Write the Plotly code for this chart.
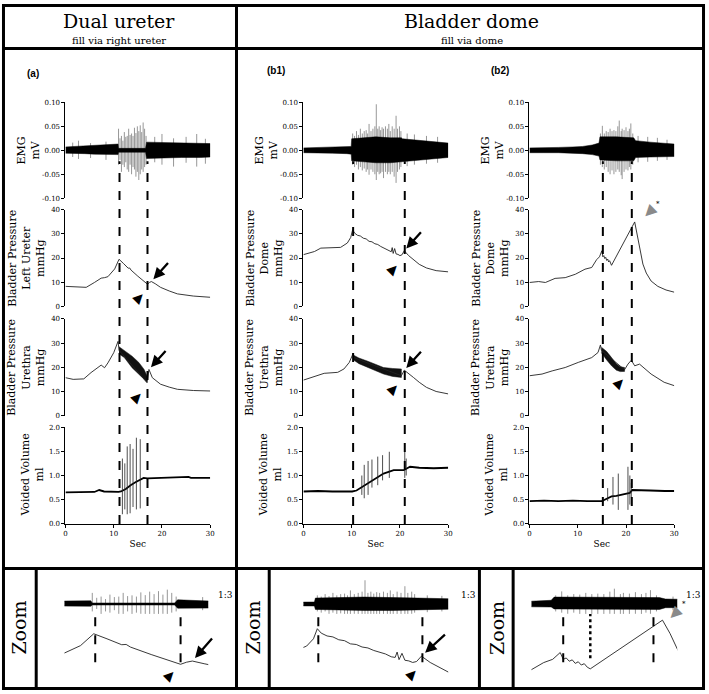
import plotly.graph_objects as go

# ------------------------------------------------------------------
# data (time in s)
# ------------------------------------------------------------------
x_ticks = [0, 10, 20, 30]
emg_ticks = [-0.1, -0.05, 0.0, 0.05, 0.1]
emg_tick_text = ["-0.10", "-0.05", "0.00", "0.05", "0.10"]
p_ticks = [0, 10, 20, 30, 40]
vol_ticks = [0, 0.5, 1.0, 1.5, 2.0]
vol_tick_text = ["0.0", "0.5", "1.0", "1.5", "2.0"]

# event lines (dashed)
a_events = [11.2, 17.0]
b1_events = [10.3, 21.0]
b2_events = [15.2, 21.2]
zoom3_dotted = [17.0]

# ---- (a) dual ureter ----
a_emg_t = [0, 2, 4, 6, 8, 10, 10.9, 11.0, 16.6, 16.8, 20, 24, 28, 30]
a_emg_hi = [0.007, 0.008, 0.008, 0.009, 0.010, 0.012, 0.013, 0.004, 0.004, 0.017, 0.016, 0.015, 0.015, 0.014]
a_emg_lo = [-0.006, -0.007, -0.007, -0.008, -0.008, -0.009, -0.009, -0.004, -0.004, -0.017, -0.016, -0.015, -0.015, -0.014]
a_spk_t = [1.5, 2.7, 5.2, 8.4, 11.0, 11.3, 11.6, 11.9, 12.2, 12.5, 12.8, 13.1, 13.4, 13.7, 14.0,
           14.3, 14.6, 14.9, 15.2, 15.5, 15.8, 16.1, 16.4, 16.7, 18.5, 20.0, 22.4, 25.0, 27.2, 29.0]
a_spk_hi = [0.016, 0.020, 0.015, 0.018, 0.045, 0.025, 0.030, 0.020, 0.038, 0.028, 0.030, 0.045, 0.032, 0.035, 0.030,
            0.047, 0.036, 0.050, 0.040, 0.052, 0.038, 0.058, 0.045, 0.030, 0.028, 0.034, 0.025, 0.028, 0.034, 0.024]
a_spk_lo = [-0.014, -0.018, -0.016, -0.020, -0.030, -0.020, -0.045, -0.030, -0.035, -0.025, -0.040, -0.045, -0.030, -0.050, -0.035,
            -0.040, -0.055, -0.045, -0.062, -0.050, -0.040, -0.045, -0.035, -0.030, -0.025, -0.030, -0.034, -0.026, -0.034, -0.028]

a_p1_t = [0, 2, 4.3, 6.0, 7.4, 8.1, 8.8, 10.2, 11.1, 12.0, 13.0, 13.3, 13.6, 15.0, 17.0, 17.4, 17.8, 18.6, 19.7, 21.5, 23.2, 26.5, 30]
a_p1_v = [8.3, 8.1, 7.9, 9.9, 11.7, 11.9, 12.3, 15.5, 19.5, 17.8, 15.8, 15.9, 15.0, 12.5, 9.2, 9.9, 10.3, 9.4, 7.9, 6.4, 5.2, 4.3, 3.8]

a_p2_t = [0, 1.6, 3.8, 5.3, 7.4, 8.1, 8.8, 10.0, 10.9, 11.1, 16.9, 17.3, 18.0, 19.7, 21.5, 23.2, 26.5, 30]
a_p2_v = [15.7, 15.0, 15.2, 17.8, 20.9, 19.8, 21.8, 26.0, 30.7, 27.0, 13.7, 19.1, 15.7, 13.0, 11.8, 10.9, 10.4, 10.2]
a_p2_band_t = [11.1, 12.2, 13.8, 15.2, 16.3, 16.9]
a_p2_band_hi = [28.5, 27.0, 24.6, 22.0, 19.1, 16.4]
a_p2_band_lo = [25.5, 24.0, 19.8, 17.0, 15.0, 13.7]

a_vol_t = [0, 3, 6, 7, 8, 11, 11.5, 12.5, 13.5, 14.5, 15.5, 16.2, 17, 20, 23, 25.5, 26, 28, 30]
a_vol_v = [0.65, 0.66, 0.66, 0.70, 0.67, 0.66, 0.67, 0.72, 0.80, 0.86, 0.91, 0.95, 0.94, 0.95, 0.95, 0.97, 0.95, 0.95, 0.95]
a_vspk_t = [11.8, 12.3, 12.8, 13.4, 14.0, 14.7, 15.5]
a_vspk_hi = [1.35, 1.25, 1.60, 1.65, 1.55, 1.78, 1.75]
a_vspk_lo = [0.20, 0.30, 0.20, 0.22, 0.35, 0.30, 0.32]

# ---- (b1) bladder dome ----
b1_emg_t = [0, 3, 6, 9, 9.9, 10.0, 12, 15, 18, 20.3, 20.5, 24, 27, 30]
b1_emg_hi = [0.005, 0.006, 0.006, 0.007, 0.008, 0.024, 0.026, 0.028, 0.026, 0.026, 0.024, 0.021, 0.018, 0.015]
b1_emg_lo = [-0.005, -0.006, -0.006, -0.007, -0.008, -0.022, -0.023, -0.026, -0.026, -0.024, -0.024, -0.021, -0.018, -0.015]
b1_spk_t = [10.2, 10.6, 11.0, 11.4, 11.8, 12.2, 12.6, 13.0, 13.3, 13.6, 14.0, 14.4, 14.8, 15.1, 15.4, 15.7, 16.0,
            16.3, 16.6, 17.0, 17.4, 17.7, 18.0, 18.4, 18.8, 19.2, 19.5, 19.9, 20.2, 21.5, 23.0, 25.5, 27.8]
b1_spk_hi = [0.035, 0.030, 0.040, 0.032, 0.045, 0.035, 0.040, 0.042, 0.035, 0.055, 0.040, 0.045, 0.050, 0.096, 0.045, 0.050, 0.042,
             0.048, 0.045, 0.050, 0.045, 0.055, 0.040, 0.050, 0.045, 0.072, 0.045, 0.050, 0.040, 0.035, 0.033, 0.030, 0.028]
b1_spk_lo = [-0.030, -0.035, -0.030, -0.040, -0.035, -0.042, -0.038, -0.045, -0.040, -0.051, -0.040, -0.045, -0.050, -0.062, -0.045, -0.050, -0.048,
             -0.045, -0.058, -0.045, -0.050, -0.045, -0.050, -0.045, -0.055, -0.068, -0.045, -0.040, -0.035, -0.033, -0.030, -0.028, -0.026]

b1_p1_t = [0, 1, 2.3, 3.6, 5, 6.4, 7.7, 9.1, 9.8, 10.2, 10.6, 11.2, 11.8, 12.4, 13.0, 13.6, 14.2, 14.8, 15.4, 16.0, 16.6, 17.2,
           17.8, 18.2, 18.4, 18.6, 18.9, 19.2, 19.6, 20.0, 20.4, 20.9, 21.8, 22.8, 24.0, 25.5, 27.5, 30]
b1_p1_v = [21.4, 21.9, 22.7, 24.1, 24.3, 24.5, 24.4, 26.2, 28.5, 31.7, 30.3, 29.4, 29.1, 28.2, 27.9, 26.9, 26.7, 25.9, 25.6, 24.8, 24.2, 23.7,
           22.8, 22.6, 24.3, 21.9, 23.9, 21.7, 21.5, 21.0, 21.3, 23.0, 21.0, 19.3, 17.4, 15.9, 14.8, 14.3]

b1_p2_t = [0, 2.3, 4.3, 7.1, 8.4, 9.5, 10.3, 10.4, 20.3, 20.9, 21.8, 22.8, 24, 25.5, 27.5, 30]
b1_p2_v = [14.7, 16.1, 17.5, 17.9, 19.3, 22.0, 25.7, 24.0, 16.5, 18.8, 17.5, 15.8, 13.8, 11.7, 10.0, 9.0]
b1_p2_band_t = [10.4, 11.5, 13.2, 15.0, 16.6, 18.5, 20.3]
b1_p2_band_hi = [25.0, 23.8, 22.6, 21.2, 19.9, 19.5, 19.3]
b1_p2_band_lo = [23.0, 21.5, 19.9, 18.5, 17.2, 16.2, 15.8]

b1_vol_t = [0, 3, 6, 9, 10.1, 11.0, 11.8, 13.0, 14.6, 16.6, 18.7, 20.8, 21.5, 22.1, 24, 27, 30]
b1_vol_v = [0.67, 0.68, 0.67, 0.67, 0.67, 0.69, 0.74, 0.82, 0.91, 1.04, 1.11, 1.11, 1.15, 1.18, 1.16, 1.15, 1.16]
b1_vspk_t = [12.1, 12.6, 13.4, 14.2, 15.4, 16.4, 17.8, 21.0, 21.3]
b1_vspk_hi = [1.00, 1.22, 1.30, 1.33, 1.39, 1.42, 1.49, 1.52, 1.35]
b1_vspk_lo = [0.60, 0.53, 0.60, 0.75, 0.80, 0.90, 0.95, 0.95, 1.00]

# ---- (b2) bladder dome ----
b2_emg_t = [0, 3, 6, 9, 11, 13, 14.4, 14.6, 18, 21.6, 22, 25, 28, 30]
b2_emg_hi = [0.005, 0.005, 0.006, 0.007, 0.008, 0.011, 0.015, 0.028, 0.028, 0.026, 0.020, 0.017, 0.015, 0.013]
b2_emg_lo = [-0.005, -0.005, -0.005, -0.006, -0.007, -0.009, -0.012, -0.020, -0.022, -0.022, -0.015, -0.014, -0.013, -0.013]
b2_spk_t = [14.7, 15.1, 15.5, 15.9, 16.3, 16.7, 17.1, 17.5, 17.9, 18.3, 18.6, 19.0, 19.2, 19.6, 20.0, 20.4,
            20.7, 21.0, 21.4, 22.5, 24.5, 26.5, 28.5]
b2_spk_hi = [0.035, 0.051, 0.035, 0.040, 0.038, 0.045, 0.040, 0.042, 0.040, 0.050, 0.062, 0.040, 0.045, 0.042, 0.048, 0.040,
             0.045, 0.056, 0.035, 0.030, 0.028, 0.026, 0.022]
b2_spk_lo = [-0.030, -0.035, -0.040, -0.035, -0.045, -0.050, -0.042, -0.050, -0.045, -0.040, -0.045, -0.052, -0.060, -0.045, -0.040, -0.042,
             -0.035, -0.040, -0.030, -0.025, -0.024, -0.022, -0.020]

b2_p1_t = [0, 1.9, 3.3, 5.3, 7.4, 9.5, 11.5, 12.9, 13.9, 14.5, 15.0, 15.2, 15.4, 15.6, 15.8, 16.0, 16.2, 16.4, 16.6, 16.8, 17.0,
           21.8, 22.3, 22.8, 23.5, 24.2, 25.2, 26.6, 28.3, 30]
b2_p1_v = [9.9, 10.3, 9.9, 11.6, 11.9, 13.3, 15.4, 16.1, 19.3, 20.5, 23.0, 20.5, 21.0, 19.8, 20.3, 19.0, 19.6, 18.4, 18.9, 17.6, 17.0,
           34.9, 30.0, 24.1, 17.5, 13.8, 10.5, 8.3, 6.8, 5.9]

b2_p2_t = [0, 2.6, 4.7, 7.4, 10.1, 12.9, 14.2, 14.7, 14.9, 19.7, 20.4, 21.1, 21.8, 22.8, 25.2, 27.9, 30]
b2_p2_v = [16.5, 17.2, 18.5, 19.9, 22.0, 24.0, 26.1, 29.2, 27.0, 19.0, 21.3, 22.9, 20.6, 21.3, 17.2, 13.8, 12.4]
b2_p2_band_t = [14.9, 16.0, 17.0, 18.0, 18.8, 19.7]
b2_p2_band_hi = [28.3, 26.5, 24.0, 21.5, 20.2, 19.9]
b2_p2_band_lo = [26.0, 23.0, 20.6, 18.8, 18.2, 18.3]

b2_vol_t = [0, 3, 6, 9, 12, 15, 16, 17, 18, 19, 20, 20.8, 21.3, 22, 25, 28, 30]
b2_vol_v = [0.47, 0.48, 0.47, 0.48, 0.47, 0.47, 0.52, 0.57, 0.58, 0.60, 0.62, 0.64, 0.70, 0.70, 0.69, 0.68, 0.68]
b2_vspk_t = [16.2, 17.3, 18.4, 20.4, 20.8, 21.1]
b2_vspk_hi = [0.74, 0.97, 1.04, 1.18, 1.00, 0.85]
b2_vspk_lo = [0.47, 0.40, 0.29, 0.29, 0.40, 0.55]

# zoomed windows (s) and pressure scale of each zoom strip
zoom_t_range = [[9.11, 18.88], [8.77, 23.65], [13.09, 22.78]]
zoom_p_range = [[6.2, 26.2], [17.6, 36.4], [15.4, 37.2]]

# ------------------------------------------------------------------
# layout helpers (pixel -> paper)
# ------------------------------------------------------------------
W, H = 709, 694
SERIF = "DejaVu Serif"
SANS = "Liberation Sans"


def px(x):
    return x / W


def py(y):
    return 1 - y / H


def nm(n):
    return "" if n == 1 else str(n)


COL_X = [64, 304, 532]
COL_W = 146
ROWS = [(99.5, 196.5), (208, 306), (318.5, 416.5), (428, 526)]

fig = go.Figure()


def add_emg(xa, ya, t, hi, lo, st, shi, slo):
    sx, sy = [], []
    for tt, h, l in zip(st, shi, slo):
        sx += [tt, tt, None]
        sy += [l, h, None]
    fig.add_trace(go.Scatter(x=sx, y=sy, mode="lines", xaxis=xa, yaxis=ya,
                             line=dict(color="#6a6a6a", width=0.7), hoverinfo="skip"))
    fig.add_trace(go.Scatter(x=t + t[::-1], y=hi + lo[::-1], mode="lines", fill="toself",
                             fillcolor="black", xaxis=xa, yaxis=ya,
                             line=dict(color="black", width=0.5), hoverinfo="skip"))


def add_line(xa, ya, t, v, width=0.9, color="#222"):
    fig.add_trace(go.Scatter(x=t, y=v, mode="lines", xaxis=xa, yaxis=ya,
                             line=dict(color=color, width=width), hoverinfo="skip"))


def add_band(xa, ya, t, hi, lo):
    fig.add_trace(go.Scatter(x=t + t[::-1], y=hi + lo[::-1], mode="lines", fill="toself",
                             fillcolor="#111", xaxis=xa, yaxis=ya,
                             line=dict(color="#111", width=0.5), hoverinfo="skip"))


def add_vspikes(xa, ya, st, shi, slo):
    sx, sy = [], []
    for tt, h, l in zip(st, shi, slo):
        sx += [tt, tt, None]
        sy += [l, h, None]
    fig.add_trace(go.Scatter(x=sx, y=sy, mode="lines", xaxis=xa, yaxis=ya,
                             line=dict(color="#222", width=0.8), hoverinfo="skip"))


columns = [
    dict(emg=(a_emg_t, a_emg_hi, a_emg_lo, a_spk_t, a_spk_hi, a_spk_lo),
         p1=(a_p1_t, a_p1_v), p2=(a_p2_t, a_p2_v), band=(a_p2_band_t, a_p2_band_hi, a_p2_band_lo),
         vol=(a_vol_t, a_vol_v), vspk=(a_vspk_t, a_vspk_hi, a_vspk_lo), events=a_events,
         p1_title="Bladder Pressure<br>Left Ureter<br>mmHg", label="(a)", label_xy=(31.5, 70)),
    dict(emg=(b1_emg_t, b1_emg_hi, b1_emg_lo, b1_spk_t, b1_spk_hi, b1_spk_lo),
         p1=(b1_p1_t, b1_p1_v), p2=(b1_p2_t, b1_p2_v), band=(b1_p2_band_t, b1_p2_band_hi, b1_p2_band_lo),
         vol=(b1_vol_t, b1_vol_v), vspk=(b1_vspk_t, b1_vspk_hi, b1_vspk_lo), events=b1_events,
         p1_title="Bladder Pressure<br>Dome<br>mmHg", label="(b1)", label_xy=(276, 67.5)),
    dict(emg=(b2_emg_t, b2_emg_hi, b2_emg_lo, b2_spk_t, b2_spk_hi, b2_spk_lo),
         p1=(b2_p1_t, b2_p1_v), p2=(b2_p2_t, b2_p2_v), band=(b2_p2_band_t, b2_p2_band_hi, b2_p2_band_lo),
         vol=(b2_vol_t, b2_vol_v), vspk=(b2_vspk_t, b2_vspk_hi, b2_vspk_lo), events=b2_events,
         p1_title="Bladder Pressure<br>Dome<br>mmHg", label="(b2)", label_xy=(502, 67.5)),
]

axis_style = dict(showgrid=False, zeroline=False, showline=True, linecolor="black", linewidth=1,
                  ticks="outside", ticklen=3, tickwidth=1, tickcolor="black",
                  tickfont=dict(family=SERIF, size=7, color="black"))

layout = {}
annotations = []
shapes = []


def paper_text(text, x, y, size, family=SERIF, angle=0, xanchor="center"):
    annotations.append(dict(text=text, xref="paper", yref="paper", x=px(x), y=py(y),
                            xanchor=xanchor, yanchor="middle", textangle=angle, showarrow=False,
                            font=dict(family=family, size=size, color="black")))


for c, col in enumerate(columns):
    xn = c + 1
    xa = "x" + nm(xn)
    yids = [c * 4 + r + 1 for r in range(4)]
    ya = ["y" + nm(i) for i in yids]

    layout["xaxis" + nm(xn)] = dict(axis_style, domain=[px(COL_X[c]), px(COL_X[c] + COL_W)],
                                     range=[0, 30], tickvals=x_ticks, anchor=ya[3],
                                     title=dict(text="Sec", font=dict(family=SERIF, size=9, color="black"),
                                                standoff=3))
    ranges = [[-0.1, 0.1], [0, 40], [0, 40], [0, 2]]
    tick_sets = [(emg_ticks, emg_tick_text), (p_ticks, None), (p_ticks, None), (vol_ticks, vol_tick_text)]
    for r in range(4):
        tv, tt = tick_sets[r]
        ax = dict(axis_style, domain=[py(ROWS[r][1]), py(ROWS[r][0])], range=ranges[r],
                  anchor=xa, tickvals=tv)
        if tt:
            ax["ticktext"] = tt
        layout["yaxis" + nm(yids[r])] = ax

    add_emg(xa, ya[0], *col["emg"])
    add_line(xa, ya[1], *col["p1"])
    add_band(xa, ya[2], *col["band"])
    add_line(xa, ya[2], *col["p2"])
    add_line(xa, ya[3], *col["vol"], width=1.8, color="black")
    add_vspikes(xa, ya[3], *col["vspk"])

    # y titles
    titles = ["EMG<br>mV", col["p1_title"], "Bladder Pressure<br>Urethra<br>mmHg", "Voided Volume<br>ml"]
    offs = [22, 16, 16, 18]
    for r in range(4):
        paper_text(titles[r], COL_X[c] - offs[r], (ROWS[r][0] + ROWS[r][1]) / 2, 11,
                   angle=-90, xanchor="right")
    paper_text("<b>%s</b>" % col["label"], col["label_xy"][0], col["label_xy"][1], 10, family=SANS)
    for ev in col["events"]:
        shapes.append(dict(type="line", xref=xa, yref="paper", x0=ev, x1=ev,
                           y0=py(526), y1=py(159), line=dict(color="black", width=2, dash="dash")))

# ------------------------------------------------------------------
# zoom strips
# ------------------------------------------------------------------
ZOOM_X = [(63, 208), (304, 450), (534, 681)]
zoom_src = [
    (columns[0]["emg"], (a_p1_t, a_p1_v), a_events),
    (columns[1]["emg"], (b1_p1_t, b1_p1_v), b1_events),
    (columns[2]["emg"], (b2_p1_t, b2_p1_v), b2_events),
]
for k in range(3):
    xn = 4 + k
    ye, yp = 13 + 2 * k, 14 + 2 * k
    xa = "x" + nm(xn)
    hidden = dict(visible=False, showgrid=False, zeroline=False)
    layout["xaxis" + nm(xn)] = dict(hidden, domain=[px(ZOOM_X[k][0]), px(ZOOM_X[k][1])],
                                     range=zoom_t_range[k], anchor="y" + nm(yp))
    layout["yaxis" + nm(ye)] = dict(hidden, domain=[py(632), py(582)], range=[-0.1, 0.1], anchor=xa)
    layout["yaxis" + nm(yp)] = dict(hidden, domain=[py(677), py(617)], range=zoom_p_range[k], anchor=xa)
    emg, pres, evs = zoom_src[k]
    add_emg(xa, "y" + nm(ye), *emg)
    add_line(xa, "y" + nm(yp), *pres)
    for ev in evs:
        shapes.append(dict(type="line", xref=xa, yref="paper", x0=ev, x1=ev,
                           y0=py(666), y1=py(615), line=dict(color="black", width=2, dash="dash")))
    if k == 2:
        for ev in zoom3_dotted:
            shapes.append(dict(type="line", xref=xa, yref="paper", x0=ev, x1=ev,
                               y0=py(662), y1=py(617), line=dict(color="black", width=2.5, dash="dot")))

# ------------------------------------------------------------------
# arrows / arrowheads
# ------------------------------------------------------------------
def val(ts, vs, t):
    return vs[ts.index(t)]


def arrow(xa, ya, t, v, ax, ay, standoff=3):
    annotations.append(dict(x=t, y=v, xref=xa, yref=ya, text="", showarrow=True, ax=ax, ay=ay,
                            arrowhead=2, arrowsize=1, arrowwidth=2.3, arrowcolor="black",
                            standoff=standoff))


def tri(xa, ya, t, v, dx, dy, angle=45, color="black", size=13):
    annotations.append(dict(x=t, y=v, xref=xa, yref=ya, text="\u25b2", showarrow=False,
                            xanchor="center", yanchor="middle",
                            xshift=dx, yshift=dy, textangle=angle,
                            font=dict(family="DejaVu Sans", size=size, color=color)))


def star(xa, ya, t, v, dx, dy):
    annotations.append(dict(x=t, y=v, xref=xa, yref=ya, text="*", showarrow=False,
                            xanchor="center", yanchor="middle",
                            xshift=dx, yshift=dy, font=dict(family=SERIF, size=7, color="black")))


arrow("x", "y2", 17.8, val(a_p1_t, a_p1_v, 17.8), 18, -20)
tri("x", "y2", 17.0, val(a_p1_t, a_p1_v, 17.0), -7, -13)
arrow("x", "y3", 17.3, val(a_p2_t, a_p2_v, 17.3), 18, -20)
tri("x", "y3", 16.9, val(a_p2_t, a_p2_v, 16.9), -9, -14)

arrow("x2", "y6", 20.9, val(b1_p1_t, b1_p1_v, 20.9), 18, -20)
tri("x2", "y6", 20.0, val(b1_p1_t, b1_p1_v, 20.0), -6, -13)
arrow("x2", "y7", 20.9, val(b1_p2_t, b1_p2_v, 20.9), 18, -20)
tri("x2", "y7", 20.3, val(b1_p2_t, b1_p2_v, 20.3), -7, -13)

tri("x3", "y11", 18.8, val(b2_p2_band_t, b2_p2_band_lo, 18.8), 0, -11)
tri("x3", "y10", 21.8, val(b2_p1_t, b2_p1_v, 21.8), 14, 9, angle=-135, color="#8a8a8a", size=15)
star("x3", "y10", 21.8, val(b2_p1_t, b2_p1_v, 21.8), 23, 18)

arrow("x4", "y14", 17.8, val(a_p1_t, a_p1_v, 17.8), 21, -24, standoff=4)
tri("x4", "y14", 17.0, val(a_p1_t, a_p1_v, 17.0), -10, -10)
arrow("x5", "y16", 20.9, val(b1_p1_t, b1_p1_v, 20.9), 25, -23, standoff=5)
tri("x5", "y16", 20.0, val(b1_p1_t, b1_p1_v, 20.0), 0, -11)
tri("x6", "y18", 21.8, val(b2_p1_t, b2_p1_v, 21.8), 11, 6, angle=-135, color="#8a8a8a", size=15)
star("x6", "y18", 21.8, val(b2_p1_t, b2_p1_v, 21.8), 22, 16)

# ------------------------------------------------------------------
# headers, zoom labels, frame
# ------------------------------------------------------------------
headers = [("Dual ureter", "fill via right ureter", 118), ("Bladder dome", "fill via dome", 474)]
for big, small, cx in headers:
    paper_text(big, cx, 17.5, 19)
    paper_text(small, cx, 36.5, 10)

for cx in [17, 253, 498.5]:
    paper_text("Zoom", cx, 631, 19, angle=-90)
for cx in [225, 470, 697]:
    paper_text("1:3", cx, 598, 9)

frame = dict(color="black", width=3)
shapes.append(dict(type="rect", xref="paper", yref="paper", x0=px(1.5), x1=px(707.5),
                   y0=py(692.5), y1=py(1.5), line=frame))
for yy in [45, 571]:
    shapes.append(dict(type="line", xref="paper", yref="paper", x0=0, x1=1, y0=py(yy), y1=py(yy), line=frame))
shapes.append(dict(type="line", xref="paper", yref="paper", x0=px(236.5), x1=px(236.5),
                   y0=py(692), y1=py(0), line=frame))
for xx in [34.5, 269.5, 481.5, 515.5]:
    shapes.append(dict(type="line", xref="paper", yref="paper", x0=px(xx), x1=px(xx),
                       y0=py(692), y1=py(571), line=frame))

fig.update_layout(width=W, height=H, margin=dict(l=0, r=0, t=0, b=0), showlegend=False,
                  paper_bgcolor="white", plot_bgcolor="white",
                  annotations=annotations, shapes=shapes, **layout)

fig.write_html("out.html", config={"displayModeBar": False},
               post_script="document.body.style.margin='0';")
